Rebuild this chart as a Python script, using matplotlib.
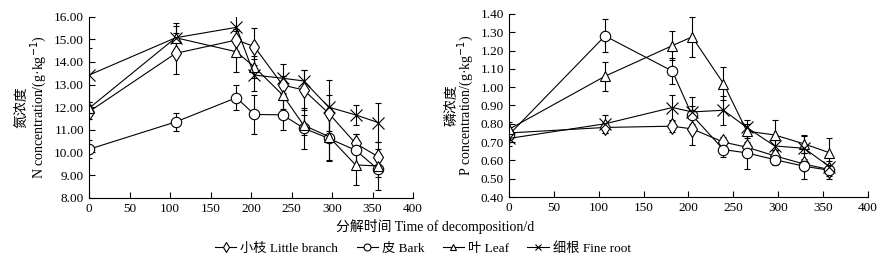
import matplotlib
matplotlib.use('Agg')
import matplotlib.pyplot as plt
from matplotlib.lines import Line2D
from matplotlib.ticker import FormatStrFormatter, MultipleLocator

plt.rcParams['font.family'] = ['Liberation Serif', 'Noto Sans CJK SC']
plt.rcParams['font.size'] = 9

# 取样时间 (d)
days = [0, 107, 182, 204, 239, 265, 296, 329, 357]

# 氮浓度 (g/kg)
n_branch = [11.80, 14.38, 14.97, 14.68, 12.98, 12.76, 11.73, 10.40, 9.81]
n_branch_err = [0.3, 0.9, 0.5, 0.8, 0.4, 0.9, 0.8, 0.4, 0.65]
n_bark = [10.14, 11.35, 12.42, 11.68, 11.66, 11.07, 10.62, 10.10, 9.25]
n_bark_err = [0.4, 0.4, 0.55, 0.85, 0.65, 0.9, 0.95, 0.7, 0.9]
n_leaf = [11.95, 15.07, 14.45, 13.78, 12.54, 11.20, 10.70, 9.45, 9.40]
n_leaf_err = [0.3, 0.5, 0.9, 0.5, 0.6, 0.45, 1.1, 0.9, 0.5]
n_root = [13.42, 15.07, 15.53, 13.42, 13.28, 13.16, 12.00, 11.66, 11.32]
n_root_err = [1.2, 0.65, 0.55, 0.7, 0.65, 0.5, 1.2, 0.45, 0.85]

# 磷浓度 (g/kg)
p_branch = [0.75, 0.78, 0.787, 0.772, 0.70, 0.672, 0.625, 0.58, 0.55]
p_branch_err = [0.05, 0.03, 0.03, 0.09, 0.03, 0.03, 0.03, 0.03, 0.02]
p_bark = [0.74, 1.28, 1.088, 0.847, 0.659, 0.641, 0.604, 0.568, 0.546]
p_bark_err = [0.04, 0.09, 0.07, 0.05, 0.04, 0.09, 0.03, 0.07, 0.05]
p_leaf = [0.77, 1.06, 1.227, 1.275, 1.02, 0.76, 0.739, 0.69, 0.642]
p_leaf_err = [0.04, 0.08, 0.08, 0.11, 0.09, 0.04, 0.08, 0.05, 0.08]
p_root = [0.72, 0.80, 0.889, 0.865, 0.874, 0.78, 0.679, 0.666, 0.566]
p_root_err = [0.04, 0.05, 0.07, 0.08, 0.08, 0.04, 0.03, 0.07, 0.05]

labels = ['小枝 Little branch', '皮 Bark', '叶 Leaf', '细根 Fine root']
markers = ['d', 'o', '^', 'x']
msizes = [8, 7.5, 7.5, 9]

fig = plt.figure(figsize=(8.83, 2.65), dpi=100)
ax1 = fig.add_axes([0.1008, 0.254, 0.367, 0.683])
ax2 = fig.add_axes([0.5764, 0.2566, 0.4066, 0.6906])


def draw(ax, series, errs):
    for y, e, m, ms in zip(series, errs, markers, msizes):
        ax.errorbar(days, y, yerr=e, color='black', lw=0.8, marker=m,
                    ms=ms, mfc='white', mec='black', mew=0.8,
                    elinewidth=0.8, capsize=2.5, capthick=0.8)
    ax.set_xlim(0, 400)
    ax.xaxis.set_major_locator(MultipleLocator(50))
    ax.yaxis.set_major_formatter(FormatStrFormatter('%.2f'))
    for s in ['top', 'right']:
        ax.spines[s].set_visible(False)
    for s in ['left', 'bottom']:
        ax.spines[s].set_linewidth(0.8)
    ax.tick_params(direction='in', length=4, width=0.8, labelsize=9.5)


draw(ax1, [n_branch, n_bark, n_leaf, n_root],
     [n_branch_err, n_bark_err, n_leaf_err, n_root_err])
ax1.set_ylim(8, 16)
ax1.yaxis.set_major_locator(MultipleLocator(1))
ax1.set_ylabel('氮浓度\nN concentration/(g·kg$^{-1}$)', fontsize=10, labelpad=4,
               linespacing=0.95)

draw(ax2, [p_branch, p_bark, p_leaf, p_root],
     [p_branch_err, p_bark_err, p_leaf_err, p_root_err])
ax2.set_ylim(0.4, 1.4)
ax2.yaxis.set_major_locator(MultipleLocator(0.1))
ax2.set_ylabel('磷浓度\nP concentration/(g·kg$^{-1}$)', fontsize=10, labelpad=3,
               linespacing=0.8)

fig.text(0.493, 0.145, '分解时间 Time of decomposition/d', ha='center',
         va='center', fontsize=10)

handles = [Line2D([], [], color='black', lw=0.8, marker=m, ms=5,
                  mfc='white', mec='black', mew=0.8) for m in markers]
fig.legend(handles, labels, loc='center', bbox_to_anchor=(0.479, 0.062), ncol=4,
           frameon=False, fontsize=9.5, handlelength=1.6, handletextpad=0.3,
           columnspacing=1.4)

fig.savefig('out.png', dpi=100)
